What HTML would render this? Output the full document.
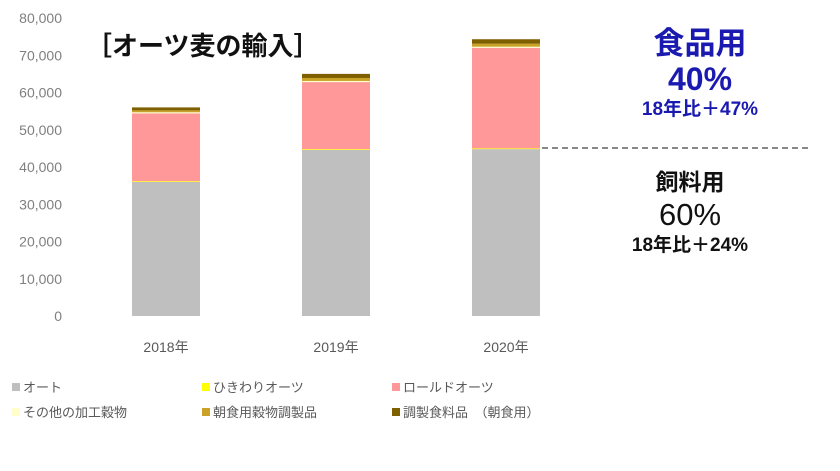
<!DOCTYPE html>
<html><head><meta charset="utf-8"><style>
body{margin:0;background:#fff;width:840px;height:466px;overflow:hidden;font-family:"Liberation Sans","Noto Sans CJK JP",sans-serif;}
svg text{font-family:"Liberation Sans","Noto Sans CJK JP",sans-serif;}
</style></head><body>
<svg id="chart" width="840" height="466" xmlns="http://www.w3.org/2000/svg"></svg>
<script>
const categories=["2018年","2019年","2020年"];
const seriesNames=["オート","ひきわりオーツ","ロールドオーツ","その他の加工穀物","朝食用穀物調製品","調製食料品　（朝食用）"];
const seriesColors=["#bfbfbf","#ffff00","#ff9999","#ffffcc","#c9a227","#7f6000"];
const oat=[36000,44600,44800];
const hikiwari=[200,200,200];
const rolled=[18200,18000,27000];
const otherGrain=[300,300,300];
const breakfastCereal=[500,800,800];
const preparedFood=[800,1100,1200];
const yTicks=[0,10000,20000,30000,40000,50000,60000,70000,80000];
const series=[oat,hikiwari,rolled,otherGrain,breakfastCereal,preparedFood];
const NS="http://www.w3.org/2000/svg";
const svg=document.getElementById('chart');
const y0=316,yTop=18,yMax=80000;
const yScale=v=>y0-(v/yMax)*(y0-yTop);
const xCenter=i=>166+i*170;
const barW=68;
function mk(tag,attrs,txt){const e=document.createElementNS(NS,tag);for(const k in attrs)e.setAttribute(k,attrs[k]);if(txt!=null)e.textContent=txt;svg.appendChild(e);return e;}
yTicks.forEach(t=>{
  const e=mk('text',{x:62,y:yScale(t)+5,'text-anchor':'end','font-size':14,fill:'#7f7f7f'},t.toLocaleString('en-US'));
  
  
});
categories.forEach((c,i)=>{
  let acc=0;
  series.forEach((s,j)=>{
    const v=s[i];
    const r=mk('rect',{x:xCenter(i)-barW/2,y:yScale(acc+v),width:barW,height:yScale(acc)-yScale(acc+v),fill:seriesColors[j]});
    
    
    acc+=v;
  });
  const t=mk('text',{x:xCenter(i),y:352,'text-anchor':'middle','font-size':14,fill:'#595959'},c);
  
  
});
const legPos=[[12,392],[202,392],[392,392],[12,417],[202,417],[392,417]];
seriesNames.forEach((n,j)=>{
  const [lx,ly]=legPos[j];
  const r=mk('rect',{x:lx,y:ly-9,width:8,height:8,fill:seriesColors[j]});
  
  
  const t=mk('text',{x:lx+11,y:ly,'font-size':13,fill:'#595959'},n);
  
  
});
</script>
<div style="position:absolute;left:86px;top:26px;font-size:26px;font-weight:bold;color:#111;">［オーツ麦の輸入］</div>
<div style="position:absolute;left:600px;top:26px;width:200px;text-align:center;color:#1a1ab0;font-weight:bold;">
<div style="font-size:31px;line-height:36px;">食品用</div>
<div style="font-size:32px;line-height:34px;">40%</div>
<div style="font-size:19px;line-height:28px;">18年比＋47%</div></div>
<div style="position:absolute;left:542px;top:147px;width:266px;border-top:2px dashed #888;"></div>
<div style="position:absolute;left:590px;top:167px;width:200px;text-align:center;color:#111;font-weight:bold;">
<div style="font-size:23px;line-height:30px;">飼料用</div>
<div style="font-size:31px;line-height:36px;font-weight:normal;">60%</div>
<div style="font-size:19px;line-height:26px;">18年比＋24%</div></div>
</body></html>
